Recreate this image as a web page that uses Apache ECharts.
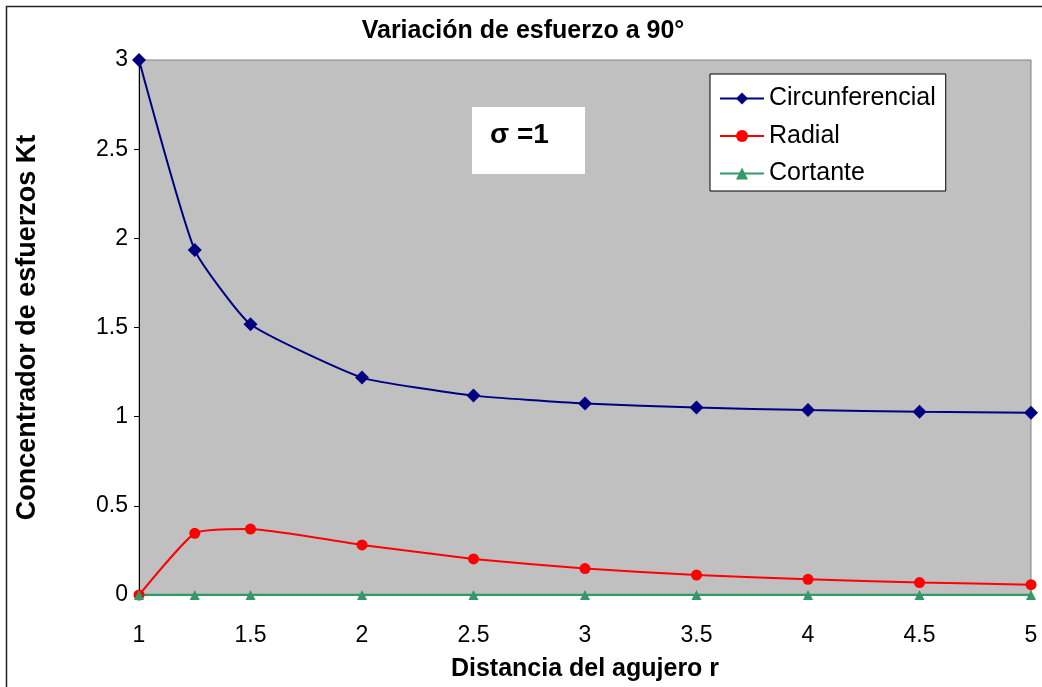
<!DOCTYPE html>
<html>
<head>
<meta charset="utf-8">
<script src="https://cdn.jsdelivr.net/npm/echarts@6/dist/echarts.min.js"></script>
<style>
  html, body { margin: 0; padding: 0; background: #fff; }
  #main { width: 1042px; height: 687px; }
</style>
</head>
<body>
<div id="main"></div>
<script>
// distancia r y valores
const radios = [1, 1.25, 1.5, 2, 2.5, 3, 3.5, 4, 4.5, 5]
const circunferencial = [3, 1.934, 1.518, 1.219, 1.118, 1.074, 1.051, 1.037, 1.028, 1.022]
const radial = [0, 0.346, 0.370, 0.281, 0.202, 0.148, 0.112, 0.088, 0.070, 0.058]
const cortante = [0, 0, 0, 0, 0, 0, 0, 0, 0, 0]

const pares = (ys) => radios.map((r, i) => [r, ys[i]])

let myChart = echarts.init(document.getElementById('main'))
let option = {
    animation: false,
    textStyle: { fontFamily: 'Liberation Sans, Arial, sans-serif' },
    title: {
        text: 'Variación de esfuerzo a 90°',
        left: 518, top: 14, textAlign: 'center',
        textStyle: { fontSize: 25, fontWeight: 'bold', color: '#000' }
    },
    grid: {
        left: 139, right: 11, top: 60, bottom: 92,
        show: true, backgroundColor: '#C0C0C0',
        borderColor: '#808080', borderWidth: 1
    },
    legend: {
        orient: 'vertical',
        left: 710, top: 74,
        padding: [12, 10, 5, 9],
        itemWidth: 44, itemHeight: 15, itemGap: 12.5,
        backgroundColor: '#fff', borderColor: '#000', borderWidth: 1,
        textStyle: { fontSize: 25, color: '#000' },
        data: ['Circunferencial', 'Radial', 'Cortante']
    },
    xAxis: {
        type: 'value', min: 1, max: 5, interval: 0.5,
        name: 'Distancia del agujero r', nameLocation: 'middle', nameGap: 62,
        nameTextStyle: { fontSize: 25, fontWeight: 'bold', color: '#000' },
        axisLine: { lineStyle: { color: '#000', width: 1 } },
        axisTick: { length: 5, lineStyle: { color: '#000' } },
        axisLabel: { fontSize: 23, color: '#000', margin: 29 },
        splitLine: { show: false }
    },
    yAxis: {
        type: 'value', min: 0, max: 3, interval: 0.5,
        name: 'Concentrador de esfuerzos Kt', nameLocation: 'middle', nameGap: 98,
        nameTextStyle: { fontSize: 27, fontWeight: 'bold', color: '#000' },
        axisLine: { show: true, lineStyle: { color: '#000', width: 1 } },
        axisTick: { show: true, length: 5, lineStyle: { color: '#000' } },
        axisLabel: { fontSize: 23, color: '#000', margin: 11 },
        splitLine: { show: false }
    },
    graphic: [
        {
            type: 'rect', left: 4, top: 4, silent: true,
            shape: { width: 1060, height: 700 },
            style: { fill: 'none', stroke: '#222', lineWidth: 1.5 }
        },
        {
            type: 'rect', left: 472, top: 107, z: 10,
            shape: { width: 113, height: 67 },
            style: { fill: '#fff' }
        },
        {
            type: 'text', left: 490, top: 121, z: 11,
            style: { text: 'σ =1', fontSize: 28, fontWeight: 'bold', fill: '#000',
                     fontFamily: 'Liberation Sans, Arial, sans-serif' }
        }
    ],
    series: [{
        name: 'Circunferencial',
        type: 'line', smooth: 0.15,
        data: pares(circunferencial),
        symbol: 'diamond', symbolSize: 14,
        lineStyle: { color: '#000080', width: 2 },
        itemStyle: { color: '#000080' }
    }, {
        name: 'Radial',
        type: 'line', smooth: 0.15,
        data: pares(radial),
        symbol: 'circle', symbolSize: 11,
        lineStyle: { color: '#FF0000', width: 2 },
        itemStyle: { color: '#FF0000' }
    }, {
        name: 'Cortante',
        type: 'line',
        data: pares(cortante),
        symbol: 'triangle', symbolSize: 10,
        lineStyle: { color: '#339966', width: 2.5 },
        itemStyle: { color: '#339966' }
    }]
}
myChart.setOption(option)
</script>
</body>
</html>
